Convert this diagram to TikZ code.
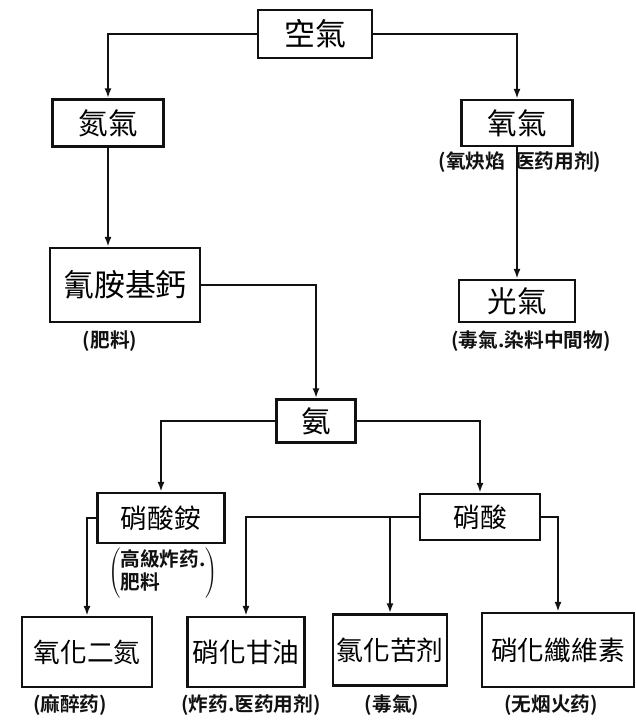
\documentclass[tikz,border=0pt]{standalone}
\usepackage{fontspec}
\setmainfont{Noto Sans CJK TC}[BoldFont={Noto Sans CJK TC Bold}]
\definecolor{Inkcol}{HTML}{111111}
\usetikzlibrary{arrows.meta, positioning}
\tikzset{
    >={Latex[length=7pt,width=5pt]},
    box/.style 2 args={draw=Inkcol, line width=1.8pt, inner sep=2pt,
        minimum width=#1, minimum height=#2, font=\fontsize{19}{22}\selectfont},
    note/.style={Inkcol, font=\fontsize{14}{16}\selectfont\bfseries, align=center},
    link/.style={->, Inkcol, line width=1.5pt}
}

\begin{document}
\begin{tikzpicture}[x=0.025cm, y=-0.025cm]
    \useasboundingbox (0,0) rectangle (636,725);

    % Top: air and its two gases
    \node[box={2.85cm}{1.2cm}, font=\fontsize{22}{24}\selectfont] (air) at (315,34) {空氣};
    \node[box={2.78cm}{1.18cm}, font=\fontsize{21}{24}\selectfont] (nitrogen) at (108,123) {氮氣};
    \node[box={2.78cm}{1.15cm}, font=\fontsize{21}{24}\selectfont] (oxygen) at (517,123) {氧氣};
    \node[note] (oxynote) at (520,162) {(氧炔焰\enspace 医药用剂)};

    \draw[link] (air.west) -| (nitrogen.north);
    \draw[link] (air.east) -| (oxygen.north);

    % Phosgene
    \node[box={2.9cm}{1.05cm}, font=\fontsize{21}{24}\selectfont] (phosgene) at (517,301) {光氣};
    \node[note] (phosnote) at (531,341) {(毒氣.染料中間物)};
    \draw[link] (oxygen.south) -- (phosgene.north);

    % Calcium cyanamide
    \node[box={3.75cm}{1.85cm}, font=\fontsize{22}{24}\selectfont] (cyanamide) at (125,285) {氰胺基鈣};
    \node[note] (cyannote) at (110,341) {(肥料)};
    \draw[link] (nitrogen.south) -- (nitrogen.south |- cyanamide.north);

    % Ammonia
    \node[box={1.98cm}{1.08cm}, font=\fontsize{21}{24}\selectfont] (ammonia) at (316,421) {氨};
    \draw[link] (cyanamide.east) -| (ammonia.north);

    % Ammonium nitrate and nitric acid
    \node[box={3.18cm}{1.25cm}] (nitrate) at (161,518) {硝酸銨};
    \node[note] (nitratenote) at (163,573)
        {$\left(\begin{tabular}{@{}l@{}}高級炸药.\\肥料\end{tabular}\right)$};
    \node[box={3.0cm}{1.15cm}] (acid) at (480,517) {硝酸};

    \draw[link] (ammonia.west) -| (nitrate.north);
    \draw[link] (ammonia.east) -| (acid.north);

    % Bottom row
    \node[box={3.25cm}{1.75cm}] (nitrous) at (87,652) {氧化二氮};
    \node[note] (nitrousnote) at (70,705) {(麻醉药)};
    \node[box={2.93cm}{1.75cm}] (glycerin) at (246,652) {硝化甘油};
    \node[note] (glycerinnote) at (251,705) {(炸药.医药用剂)};
    \node[box={2.85cm}{1.78cm}] (picrin) at (390,650) {氯化苦剂};
    \node[note] (picrinnote) at (392,705) {(毒氣)};
    \node[box={3.8cm}{1.85cm}] (cellulose) at (558,650) {硝化纖維素};
    \node[note] (cellulosenote) at (551,705) {(无烟火药)};

    \draw[link] (nitrate.west) -| (nitrous.north);
    \draw[link] (acid.west) -| (glycerin.north);
    \draw[link] (picrin.north |- acid.west) -- (picrin.north);
    \draw[link] (acid.east) -| (cellulose.north);
\end{tikzpicture}
\end{document}
